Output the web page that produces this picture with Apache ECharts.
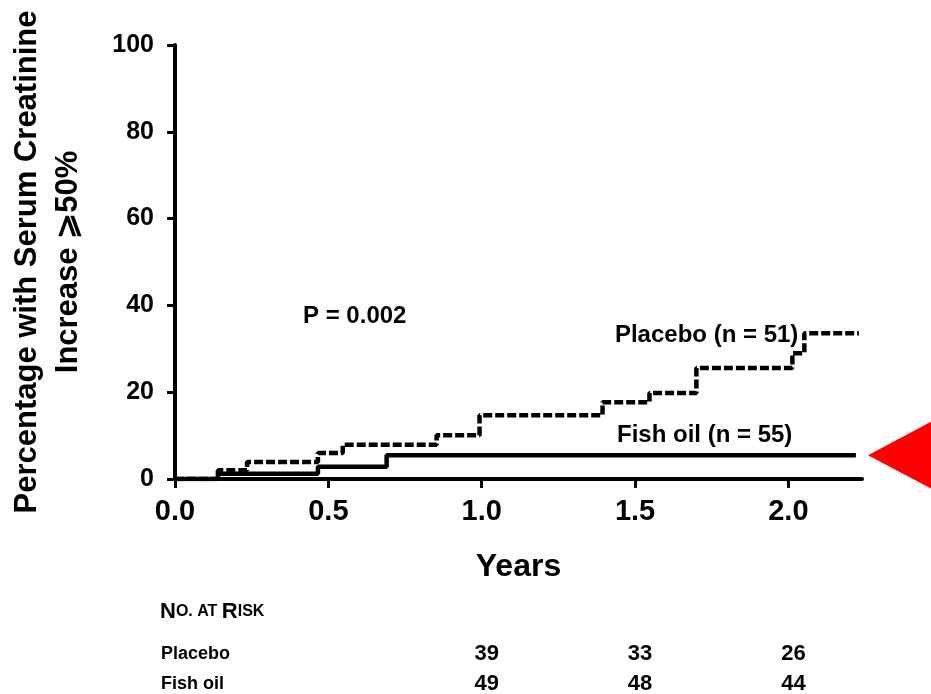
<!DOCTYPE html>
<html>
<head>
<meta charset="utf-8">
<script src="https://cdn.jsdelivr.net/npm/echarts@6/dist/echarts.min.js"></script>
<style>
  html, body { margin: 0; padding: 0; background: #fff; }
  #chart { width: 931px; height: 694px; }
</style>
</head>
<body>
<div id="chart"></div>
<script>
// Cumulative incidence of a >=50% rise in serum creatinine (Kaplan-Meier steps)
const placeboYears = [0, 0.14, 0.235, 0.466, 0.547, 0.853, 0.993, 1.394, 1.547, 1.70, 2.013, 2.052, 2.23];
const placeboPct   = [0, 2.0, 3.9, 6.0, 7.9, 10.1, 14.7, 17.7, 19.8, 25.6, 29.0, 33.6, 33.6];
const fishYears    = [0, 0.14, 0.466, 0.69, 2.22];
const fishPct      = [0, 1.2, 2.8, 5.5, 5.5];

// Number at risk table
const riskYears   = [1.0, 1.5, 2.0];
const riskPlacebo = [39, 33, 26];
const riskFish    = [49, 48, 44];

const FONT = '"Liberation Sans", Arial, Helvetica, sans-serif';

const pairs = (xs, ys) => xs.map((x, i) => [x, ys[i]]);

const chart = echarts.init(document.getElementById('chart'), null, { renderer: 'canvas' });

chart.setOption({
  backgroundColor: '#ffffff',
  animation: false,
  grid: { left: 175, right: 69, top: 45, bottom: 215, containLabel: false, outerBoundsMode: 'none' },
  xAxis: {
    type: 'value',
    min: 0, max: 2.24, interval: 0.5,
    name: 'Years',
    nameLocation: 'middle',
    nameGap: 72,
    nameTextStyle: { fontFamily: FONT, fontWeight: 'bold', fontSize: 32, color: '#000' },
    axisLine: { onZero: false, lineStyle: { color: '#000', width: 4 } },
    axisTick: { inside: false, length: 9, lineStyle: { color: '#000', width: 3 } },
    axisLabel: {
      margin: 18, color: '#000', fontFamily: FONT, fontWeight: 'bold', fontSize: 29,
      showMaxLabel: false,
      formatter: v => (Math.abs(v * 2 - Math.round(v * 2)) < 1e-6 ? v.toFixed(1) : '')
    },
    splitLine: { show: false }
  },
  yAxis: {
    type: 'value',
    min: 0, max: 100, interval: 20,
    name: 'Percentage with Serum Creatinine\nIncrease \u2A7E50%',
    nameLocation: 'middle',
    nameRotate: 90,
    nameGap: 86,
    nameTextStyle: { fontFamily: FONT, fontWeight: 'bold', fontSize: 31, color: '#000', lineHeight: 41, align: 'center' },
    axisLine: { show: true, lineStyle: { color: '#000', width: 4 } },
    axisTick: { show: true, inside: false, length: 8, lineStyle: { color: '#000', width: 3 } },
    axisLabel: { margin: 21, color: '#000', fontFamily: FONT, fontWeight: 'bold', fontSize: 25 },
    splitLine: { show: false }
  },
  series: [
    {
      name: 'Placebo',
      type: 'line',
      step: 'end',
      data: pairs(placeboYears, placeboPct),
      showSymbol: false,
      lineStyle: { color: '#000', width: 4.5, type: [9, 3], cap: 'butt' },
      z: 3
    },
    {
      name: 'Fish oil',
      type: 'line',
      step: 'end',
      data: pairs(fishYears, fishPct),
      showSymbol: false,
      lineStyle: { color: '#000', width: 4.5, type: 'solid' },
      z: 4
    }
  ]
});

// Annotations, risk table and pointer, placed through the axis scales
const toPx = (x, y) => chart.convertToPixel({ gridIndex: 0 }, [x, y]);
const txt = (x, y, text, opts) => Object.assign({
  type: 'text', x: x, y: y,
  style: Object.assign({ text: text, fill: '#000', font: 'bold 24px ' + FONT, textVerticalAlign: 'middle' }, opts || {})
});

const gfx = [];
gfx.push(txt(303, 316, 'P = 0.002'));

const placeboEnd = toPx(placeboYears[placeboYears.length - 2], placeboPct[placeboPct.length - 1]);
gfx.push(txt(placeboEnd[0] - 6, placeboEnd[1] + 2, 'Placebo (n = 51)', { textAlign: 'right' }));

const fishEnd = toPx(fishYears[fishYears.length - 1], fishPct[fishPct.length - 1]);
gfx.push(txt(617, fishEnd[1] - 20, 'Fish oil (n = 55)'));

// Red pointer at the fish-oil plateau
const axisEnd = toPx(2.24, 0);
const tipX = axisEnd[0] + 6, tipY = fishEnd[1];
gfx.push({
  type: 'polygon',
  shape: { points: [[tipX, tipY], [tipX + 68, tipY - 36], [tipX + 68, tipY + 36]] },
  style: { fill: '#ff0000' }
});

// Number at risk
gfx.push({
  type: 'text', x: 160, y: 612,
  style: {
    text: '{b|N}{s|O. AT }{b|R}{s|ISK}',
    textVerticalAlign: 'middle',
    rich: {
      b: { font: 'bold 22px ' + FONT, fill: '#000' },
      s: { font: 'bold 16px ' + FONT, fill: '#000' }
    }
  }
});
gfx.push(txt(161, 654, 'Placebo', { font: 'bold 18px ' + FONT }));
gfx.push(txt(161, 684, 'Fish oil', { font: 'bold 18px ' + FONT }));
riskYears.forEach((t, i) => {
  const px = toPx(t, 0)[0] + 5;
  gfx.push(txt(px, 654, String(riskPlacebo[i]), { font: 'bold 22px ' + FONT, textAlign: 'center' }));
  gfx.push(txt(px, 684, String(riskFish[i]), { font: 'bold 22px ' + FONT, textAlign: 'center' }));
});

chart.setOption({ graphic: gfx });
</script>
</body>
</html>
